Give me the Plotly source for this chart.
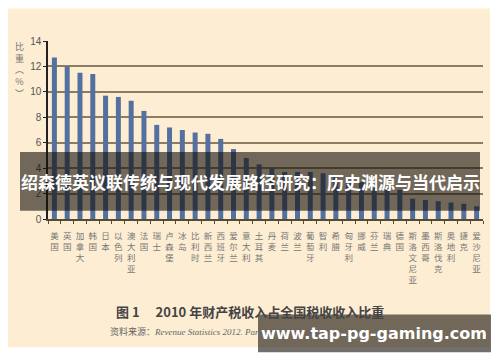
import plotly.graph_objects as go

countries = ["美国", "英国", "加拿大", "韩国", "日本", "以色列", "澳大利亚", "法国", "瑞士", "卢森堡",
             "冰岛", "比利时", "新西兰", "西班牙", "爱尔兰", "意大利", "土耳其", "丹麦", "荷兰", "波兰",
             "葡萄牙", "智利", "希腊", "匈牙利", "挪威", "芬兰", "瑞典", "德国", "斯洛文尼亚", "墨西哥",
             "斯洛伐克", "奥地利", "捷克", "爱沙尼亚"]
shares = [12.7, 12.0, 11.5, 11.4, 9.7, 9.6, 9.3, 8.5, 7.4, 7.2,
          7.0, 6.8, 6.7, 6.3, 5.5, 4.8, 4.3, 4.0, 3.7, 3.7,
          3.7, 3.6, 3.3, 3.0, 2.9, 2.6, 2.4, 2.3, 1.6, 1.5,
          1.4, 1.3, 1.2, 1.0]
y_ticks = [0, 2, 4, 6, 8, 10, 12, 14]
y_title = ["比", "重", "︵", "%", "︶"]
banner_text = "绍森德英议联传统与现代发展路径研究：历史渊源与当代启示"
caption_text = "图 1　 2010 年财产税收入占全国税收收入比重"
source_text = "资料来源：<i>Revenue Statistics 2012. Paris: OECD Publishing, 2012</i>"
watermark_text = "www.tap-pg-gaming.com"

W, H = 500, 362
L, R = 48, 483          # plot area pixel bounds (x)
T, B = 40.7, 219.3      # plot area pixel bounds (y)

def px(x):
    return (x - L) / (R - L)

def py(y):
    return (B - y) / (B - T)

CJK = "Noto Sans CJK SC"

fig = go.Figure()
fig.add_trace(go.Bar(
    x=countries, y=shares,
    marker=dict(color="#54709F", line=dict(width=0)),
    hoverinfo="skip",
))

shapes = [
    # cream panel
    dict(type="rect", xref="paper", yref="paper", x0=px(8), x1=px(490), y0=py(348), y1=py(8),
         fillcolor="#FDEDD3", line=dict(width=0), layer="below"),
    # dark banner across middle
    dict(type="rect", xref="paper", yref="paper", x0=px(20), x1=px(480), y0=py(211), y1=py(152),
         fillcolor="rgba(20,15,10,0.6)", line=dict(width=0), layer="above"),
    # watermark box
    dict(type="rect", xref="paper", yref="paper", x0=px(258), x1=px(491), y0=py(353), y1=py(315),
         fillcolor="rgba(20,15,10,0.6)", line=dict(width=0), layer="above"),
]

annotations = [
    dict(text=banner_text, xref="paper", yref="paper", x=px(250), y=py(182),
         showarrow=False, font=dict(family=CJK, size=17, color="white", weight="bold"),
         xanchor="center", yanchor="middle"),
    dict(text="<br>".join(y_title), xref="paper", yref="paper", x=px(19), y=py(38),
         showarrow=False, font=dict(family=CJK, size=9, color="#777"),
         xanchor="center", yanchor="top"),
    dict(text="<b>" + caption_text + "</b>", xref="paper", yref="paper", x=px(250), y=py(312),
         showarrow=False, font=dict(family=CJK, size=13, color="#444"),
         xanchor="center", yanchor="middle"),
    dict(text=source_text, xref="paper", yref="paper", x=px(108), y=py(332),
         showarrow=False, font=dict(family="Liberation Serif, " + CJK, size=9, color="#666"),
         xanchor="left", yanchor="middle"),
    dict(text="<b>" + watermark_text + "</b>", xref="paper", yref="paper", x=px(374), y=py(334),
         showarrow=False, font=dict(family="DejaVu Sans", size=16, color="white"),
         xanchor="center", yanchor="middle"),
]

fig.update_layout(
    width=W, height=H,
    margin=dict(l=L, r=W - R, t=T, b=H - B, pad=0),
    paper_bgcolor="white",
    plot_bgcolor="rgba(0,0,0,0)",
    bargap=0.61,
    showlegend=False,
    shapes=shapes,
    annotations=annotations,
    xaxis=dict(
        tickvals=countries,
        ticktext=["<br>".join(list(c)) for c in countries],
        tickangle=0,
        tickfont=dict(family=CJK, size=8.5, color="#777"),
        showline=True, linecolor="#5a4a35", linewidth=1.5,
        ticks="outside", ticklen=3, tickcolor="#5a4a35", tickson="boundaries",
        showgrid=False, fixedrange=True, ticklabelstandoff=8,
    ),
    yaxis=dict(
        range=[0, 14], tickvals=y_ticks,
        tickfont=dict(family="Liberation Sans", size=10, color="#555"),
        showline=True, linecolor="#222", linewidth=1.5,
        ticks="outside", ticklen=3, tickcolor="#222",
        showgrid=True, gridcolor="#8C7C62", gridwidth=1.5,
        zeroline=False, fixedrange=True,
    ),
)

fig.write_html("out.html")
